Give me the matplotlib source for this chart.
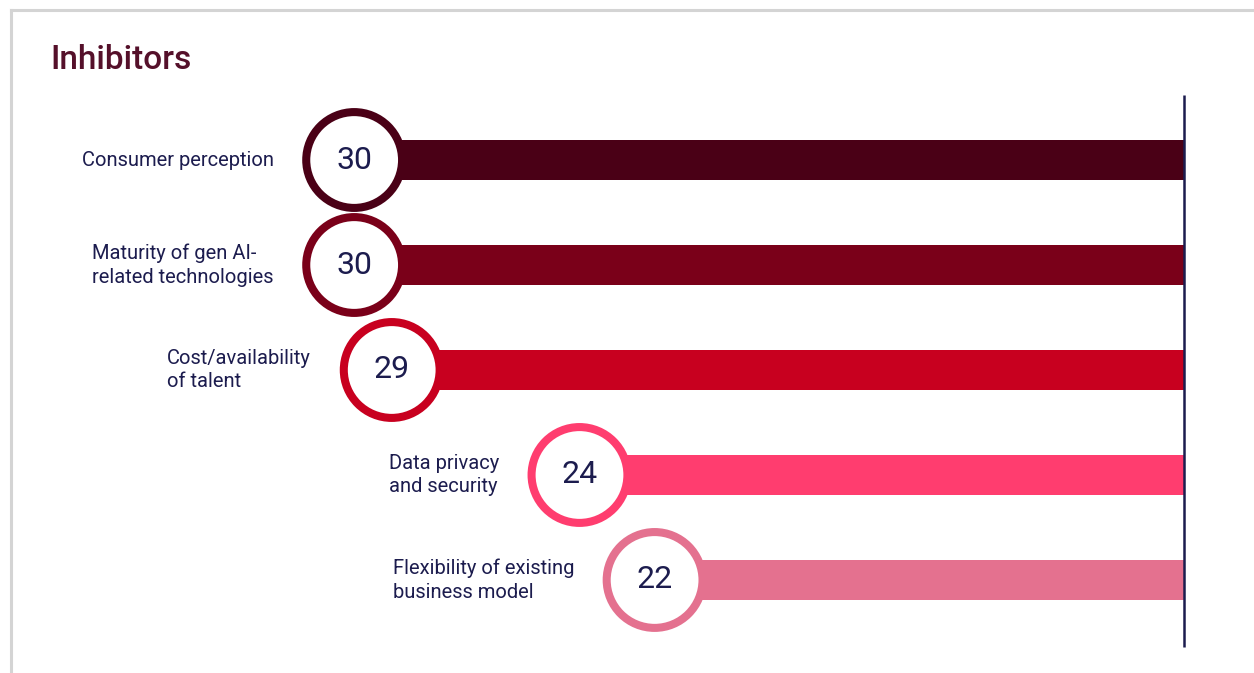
import matplotlib
matplotlib.use("Agg")
import matplotlib.pyplot as plt
from matplotlib.lines import Line2D

# --- data -------------------------------------------------------------
categories = [
    "Consumer perception",
    "Maturity of gen AI-\nrelated technologies",
    "Cost/availability\nof talent",
    "Data privacy\nand security",
    "Flexibility of existing\nbusiness model",
]
values = [30, 30, 29, 24, 22]
colors = ["#4a0016", "#7a0019", "#c8001f", "#ff3d6f", "#e4718f"]
title = "Inhibitors"

# --- styling ----------------------------------------------------------
NAVY = "#1c1c4e"
BASE = 7.9          # value at the vertical reference line
W, H, DPI = 1254, 673, 100
plt.rcParams["font.family"] = ["Roboto", "DejaVu Sans"]

fig = plt.figure(figsize=(W / DPI, H / DPI), dpi=DPI)
fig.patch.set_facecolor("white")
ax = fig.add_axes([0, 0, 1, 1])
ax.set_axis_off()

# value axis runs right-to-left, rows run top-to-bottom
ax.set_xlim(39.43, 6.04)
ax.set_ylim(4.886, -1.524)

rows = list(range(len(values)))

# bars from the reference line out to each value
ax.barh(rows, [v - BASE for v in values], left=BASE, height=0.38,
        color=colors, zorder=2)

# ring markers at the bar ends
ax.scatter(values, rows, s=69.0 ** 2, facecolor="white",
           edgecolors=colors, linewidths=5.8, zorder=3)

for i, (v, lab) in enumerate(zip(values, categories)):
    ax.text(v, i, f"{v}", ha="center", va="center", fontsize=23,
            color=NAVY, zorder=4)
    ax.annotate(lab, xy=(v, i), xytext=(-58, 0), textcoords="offset points",
                ha="right", va="center", multialignment="left",
                fontsize=14.5, color=NAVY, linespacing=1.32)

# vertical reference line
ax.plot([BASE, BASE], [-0.62, 4.64], color=NAVY, lw=1.8,
        solid_capstyle="butt", zorder=5)

# title
fig.text(50 / W, 1 - 69 / H, title, ha="left", va="baseline",
         fontsize=24, fontweight="medium", color="#55102a")

# light grey frame along the top and left
frame = "#d4d4d4"
fig.add_artist(Line2D([11 / W, 11 / W], [0, 1 - 10 / H],
                      transform=fig.transFigure, color=frame, lw=2.2))
fig.add_artist(Line2D([11 / W, 1], [1 - 10 / H, 1 - 10 / H],
                      transform=fig.transFigure, color=frame, lw=2.2))

fig.savefig("out.png", dpi=DPI, facecolor="white")
